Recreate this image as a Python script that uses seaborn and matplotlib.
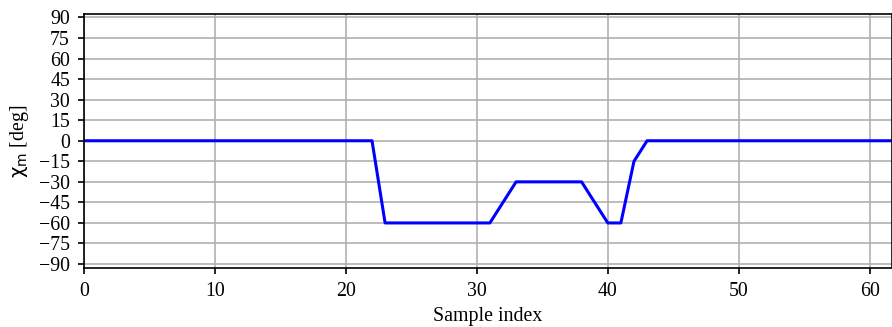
import numpy as np
import pandas as pd
import matplotlib
matplotlib.use("Agg")
import matplotlib.pyplot as plt
import seaborn as sns

sample_index = list(range(0, 63))
chi_m = ([0] * 23 + [-60] * 9 + [-45] + [-30] * 6 + [-45, -60, -60, -15] + [0] * 20)
yticks = list(range(-90, 91, 15))
xticks = [0, 10, 20, 30, 40, 50, 60]

df = pd.DataFrame({"Sample index": sample_index, "chi": chi_m})

sns.set_style("whitegrid")
plt.rcParams['font.family'] = ['Liberation Serif', 'DejaVu Serif']
plt.rcParams['mathtext.fontset'] = 'dejavusans'
plt.rcParams['axes.unicode_minus'] = True
plt.rcParams['text.color'] = 'black'
plt.rcParams['axes.labelcolor'] = 'black'
plt.rcParams['xtick.color'] = 'black'
plt.rcParams['ytick.color'] = 'black'

fig = plt.figure(figsize=(8.92, 3.27), dpi=100)
ax = fig.add_axes([0.094, 0.18, 0.906, 0.777])
sns.lineplot(data=df, x="Sample index", y="chi", color="blue", linewidth=2.2, ax=ax)
ax.set_xlim(0, 61.7)
ax.set_ylim(-93, 92.5)
ax.set_yticks(yticks)
ax.set_xticks(xticks)
ax.grid(True, color="#b0b0b0", linewidth=1.2)
for s in ax.spines.values():
    s.set_color("black")
    s.set_linewidth(1.2)
ax.tick_params(axis="both", which="both", direction="out", length=4, width=1.2,
               color="black", labelcolor="black", labelsize=14.3, left=True, bottom=True, pad=6)
ax.set_xlabel("Sample index", fontsize=14.3, labelpad=4, color="black")
ax.set_ylabel(r"$\mathrm{\chi}_\mathrm{m}$ [deg]", fontsize=14.3, labelpad=6, color="black")
fig.savefig("out.png", dpi=100)
